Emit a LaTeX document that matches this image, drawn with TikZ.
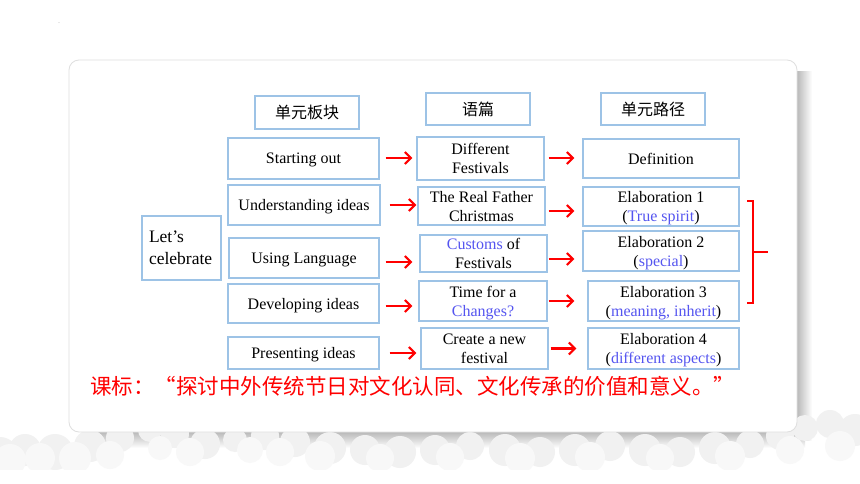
\documentclass[tikz,border=0pt]{standalone}
\usepackage{fontspec}
\setmainfont{Liberation Serif}
\newfontfamily\cjk{Noto Sans CJK SC}
\usetikzlibrary{arrows.meta,calc}
\definecolor{boxc}{RGB}{157,195,230}
\definecolor{tb}{RGB}{85,85,240}
\definecolor{cloudc}{RGB}{248,248,248}
\definecolor{cloudd}{RGB}{241,241,241}
\tikzset{
  bx/.style={draw=boxc, line width=1.1pt, inner sep=0pt, align=center, text depth=0pt,
    font=\fontsize{16}{19}\selectfont, text=black},
  hd/.style={draw=boxc, line width=1.1pt, inner sep=0pt, font=\cjk\fontsize{16}{19}\selectfont},
  lbx/.style={draw=boxc, line width=1.1pt, inner ysep=0pt, inner xsep=7pt, align=left,
    text width=65pt, font=\fontsize{17.5}{21.5}\selectfont, text=black},
  arr/.style={draw=red, line width=2.1pt, -{Straight Barb[length=6pt,width=12pt]}},
  brk/.style={draw=red, line width=1.7pt},
}
\begin{document}
\begin{tikzpicture}[x=1pt,y=-1pt]
\useasboundingbox (0,0) rectangle (860,484);
\fill[white] (0,0) rectangle (860,484);
% shadow
\shade[left color=gray!55, right color=white] (797,72) rectangle (812,440);
\shade[top color=gray!55, bottom color=white] (95,432) rectangle (805,448);
% clouds
\foreach \cx/\cy/\r in {0/455/18, 25/450/16, 55/452/18, 90/446/16, 120/438/14, 150/430/12, 175/434/14, 205/444/15, 235/440/12, 265/436/14, 295/442/15, 330/448/16, 365/450/15, 400/452/16, 435/450/15, 470/446/14, 505/450/16, 540/452/15, 575/450/16, 610/446/15, 645/450/16, 680/452/15, 715/448/16, 750/444/14, 780/436/14, 805/428/13, 830/424/14, 855/430/16}
  \fill[cloudd] (\cx,\cy) circle (\r);
\foreach \cx/\cy/\r in {10/460/16, 40/458/15, 75/458/16, 110/455/14, 160/448/12, 190/452/14, 250/450/13, 280/452/14, 320/456/15, 380/458/14, 450/457/14, 520/458/15, 590/457/15, 660/458/14, 730/456/15, 790/450/14, 840/446/15}
  \fill[cloudc] (\cx,\cy) circle (\r);
\fill[white] (0,470) rectangle (860,484);
% card
\draw[fill=white, draw=gray!25, line width=0.8pt, rounded corners=10pt] (69,60) rectangle (797,432);
% stray dot
\node[text=gray, font=\fontsize{6}{6}\selectfont, inner sep=0pt] (dot) at (59,23) {.};

% headers
\node[hd, minimum width=104pt, minimum height=33pt] (h1) at (307,112.5) {单元板块};
\node[hd, minimum width=104pt, minimum height=32pt] (h2) at (478,109) {语篇};
\node[hd, minimum width=104pt, minimum height=32pt] (h3) at (653,109) {单元路径};

% left
\node[lbx, minimum height=64pt] (lets) at (181.5,248) {Let’s\\celebrate};

% column A
\node[bx, minimum width=151pt, minimum height=41pt] (a1) at (303.5,158.5) {Starting out};
\node[bx, minimum width=152pt, minimum height=40pt] (a2) at (304,205) {Understanding ideas};
\node[bx, minimum width=150pt, minimum height=40pt] (a3) at (304,258) {Using Language};
\node[bx, minimum width=151pt, minimum height=39pt] (a4) at (303.5,303.5) {Developing ideas};
\node[bx, minimum width=151pt, minimum height=32pt] (a5) at (303.5,353) {Presenting ideas};

% column B
\node[bx, minimum width=127pt, minimum height=43pt] (b1) at (480.5,158.5) {Different\\Festivals};
\node[bx, minimum width=127pt, minimum height=38pt] (b2) at (481.5,206) {The Real Father\\Christmas};
\node[bx, minimum width=127pt, minimum height=37pt] (b3) at (483.5,253.5) {\textcolor{tb}{Customs} of\\Festivals};
\node[bx, minimum width=128pt, minimum height=40pt] (b4) at (483,301) {Time for a\\\textcolor{tb}{Changes?}};
\node[bx, minimum width=127pt, minimum height=41pt] (b5) at (484.5,348.5) {Create a new\\festival};

% column C
\node[bx, minimum width=156pt, minimum height=39pt] (c1) at (661,158.5) {Definition};
\node[bx, minimum width=156pt, minimum height=39pt] (c2) at (661,206.5) {Elaboration 1\\(\textcolor{tb}{True spirit})};
\node[bx, minimum width=156pt, minimum height=40pt] (c3) at (661,251) {Elaboration 2\\(\textcolor{tb}{special})};
\node[bx, minimum width=151pt, minimum height=40pt] (c4) at (663.5,301) {Elaboration 3\\(\textcolor{tb}{meaning, inherit})};
\node[bx, minimum width=151pt, minimum height=41pt] (c5) at (663.5,348.5) {Elaboration 4\\(\textcolor{tb}{different aspects})};

% arrows A -> B
\draw[arr, shorten <=6pt, shorten >=4pt] ([yshift=0.5pt]a1.east) -- ([yshift=0.5pt]a1.east -| b1.west);
\draw[arr, shorten <=9pt, shorten >=1pt] (a2.east) -- (a2.east -| b2.west);
\draw[arr, shorten <=6pt, shorten >=7pt] ([yshift=-4pt]a3.east) -- ([yshift=-4pt]a3.east -| b3.west);
\draw[arr, shorten <=6pt, shorten >=6pt] ([yshift=-2.5pt]a4.east) -- ([yshift=-2.5pt]a4.east -| b4.west);
\draw[arr, shorten <=10pt, shorten >=4pt] (a5.east) -- (a5.east -| b5.west);

% arrows B -> C
\draw[arr, shorten <=4pt, shorten >=8pt] ([yshift=0.5pt]b1.east) -- ([yshift=0.5pt]b1.east -| c1.west);
\draw[arr, shorten <=3pt, shorten >=8pt] ([yshift=-5pt]b2.east) -- ([yshift=-5pt]b2.east -| c2.west);
\draw[arr, shorten <=1pt, shorten >=8pt] ([yshift=-5.5pt]b3.east) -- ([yshift=-5.5pt]b3.east -| c3.west);
\draw[arr, shorten <=1pt, shorten >=13pt] (b4.east) -- (b4.east -| c4.west);
\draw[arr, shorten <=2pt, shorten >=11pt] (b5.east) -- (b5.east -| c5.west);

% bracket
\coordinate (bt) at (747,201);
\coordinate (bb) at (747,303);
\coordinate (bm) at (768,252);
\draw[brk] (bt) -- ++(6,0) |- (bb);
\draw[brk] (bm -| 753,0) -- (bm);

% standard text
\node[anchor=west, text=red, inner sep=0pt, font=\cjk\fontsize{21.5}{24}\selectfont] (std) at (90,386)
  {课标：“探讨中外传统节日对文化认同、文化传承的价值和意义。”};
\end{tikzpicture}
\end{document}
